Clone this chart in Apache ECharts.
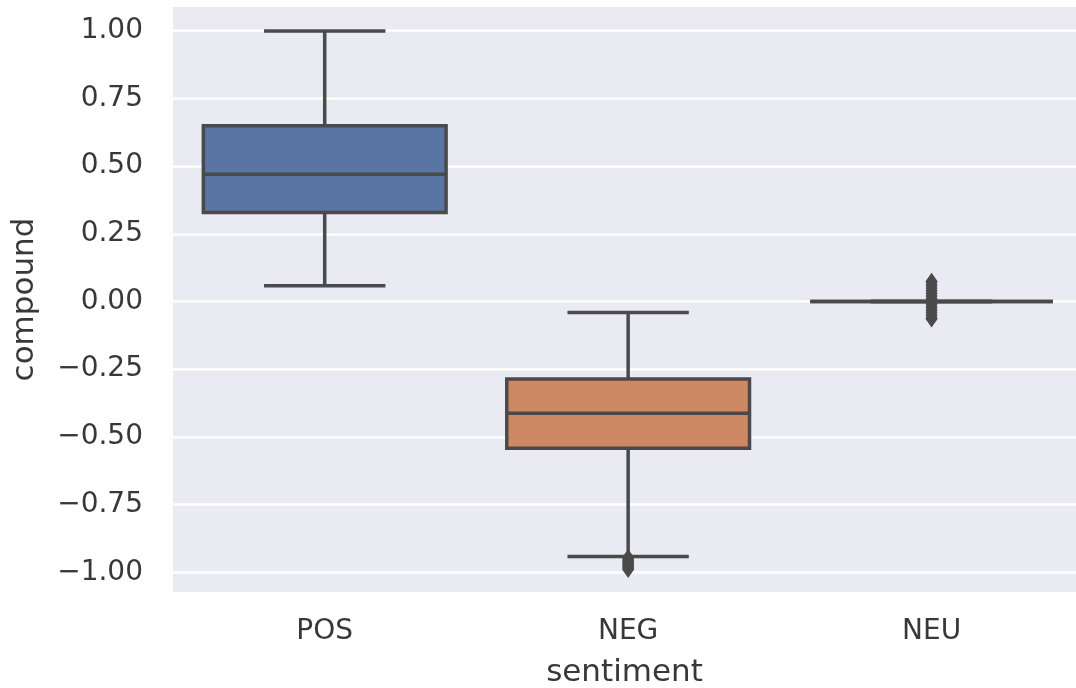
<!DOCTYPE html>
<html>
<head>
<meta charset="utf-8">
<script src="https://cdn.jsdelivr.net/npm/echarts@6/dist/echarts.min.js"></script>
<style>
html,body{margin:0;padding:0;background:#fff;}
#chart{width:1076px;height:688px;}
</style>
</head>
<body>
<div id="chart"></div>
<script>
const categories = ['POS', 'NEG', 'NEU'];
const categoryPositions = [0, 1, 2];
const whiskerLow = [0.058, -0.942, 0];
const q1 = [0.329, -0.542, 0];
const median = [0.470, -0.413, 0];
const q3 = [0.649, -0.286, 0];
const whiskerHigh = [0.999, -0.041, 0];
const boxColors = ['#5875A4', '#CC8963', '#5F9E6E'];
const negOutliers = [-0.945, -0.95, -0.955, -0.96, -0.965, -0.97, -0.975, -0.98, -0.985, -0.99];
const neuOutliers = [0.075, 0.07, 0.06, 0.05, 0.04, 0.03, 0.02, 0.01, -0.01, -0.02, -0.03, -0.04, -0.05, -0.06, -0.065];
const yTicks = [-1, -0.75, -0.5, -0.25, 0, 0.25, 0.5, 0.75, 1];

const lineColor = '#4a4a4a';
const boxData = categories.map((c, i) => [categoryPositions[i], whiskerLow[i], q1[i], median[i], q3[i], whiskerHigh[i]]);
const outlierData = [];
negOutliers.forEach(v => outlierData.push([categoryPositions[1], v]));
neuOutliers.forEach(v => outlierData.push([categoryPositions[2], v]));

const chart = echarts.init(document.getElementById('chart'));
const FONT = 'DejaVu Sans';
chart.setOption({
  animation: false,
  grid: {
    left: 173, right: 0, top: 7, bottom: 96,
    outerBoundsMode: 'none',
    containLabel: false,
    show: true, backgroundColor: '#EAEAF2', borderWidth: 0
  },
  xAxis: {
    type: 'value',
    min: -0.5,
    max: 2.476,
    name: 'sentiment',
    nameLocation: 'middle',
    nameGap: 65,
    nameTextStyle: { fontFamily: FONT, fontSize: 31, color: '#383838' },
    axisLine: { show: false },
    axisTick: { show: false, customValues: categoryPositions },
    axisLabel: {
      customValues: categoryPositions,
      fontFamily: FONT, fontSize: 28, color: '#383838', margin: 26,
      formatter: v => categories[Math.round(v)]
    },
    splitLine: { show: false }
  },
  yAxis: {
    type: 'value',
    min: -1.0727,
    max: 1.0875,
    name: 'compound',
    nameLocation: 'middle',
    nameGap: 133,
    nameTextStyle: { fontFamily: FONT, fontSize: 31, color: '#383838' },
    axisLine: { show: false },
    axisTick: { show: false, customValues: yTicks },
    axisLabel: {
      customValues: yTicks,
      fontFamily: FONT, fontSize: 28, color: '#383838', margin: 30,
      formatter: v => v.toFixed(2).replace('-', '\u2212')
    },
    splitLine: { show: true, lineStyle: { color: '#ffffff', width: 2.5 } }
  },
  series: [
    {
      type: 'custom',
      data: boxData,
      encode: { x: 0, y: [1, 2, 3, 4, 5] },
      renderItem: function (params, api) {
        const pos = api.value(0);
        const idx = params.dataIndex;
        const band = api.size([1, 0])[0];
        const bw = band * 0.8;
        const cw = bw / 2;
        const pLo = api.coord([pos, api.value(1)]);
        const pQ1 = api.coord([pos, api.value(2)]);
        const pMed = api.coord([pos, api.value(3)]);
        const pQ3 = api.coord([pos, api.value(4)]);
        const pHi = api.coord([pos, api.value(5)]);
        const x = pMed[0];
        const ls = { stroke: lineColor, lineWidth: 3.5 };
        return {
          type: 'group',
          children: [
            { type: 'line', shape: { x1: x, y1: pQ1[1], x2: x, y2: pLo[1] }, style: ls },
            { type: 'line', shape: { x1: x, y1: pQ3[1], x2: x, y2: pHi[1] }, style: ls },
            { type: 'line', shape: { x1: x - cw / 2, y1: pLo[1], x2: x + cw / 2, y2: pLo[1] }, style: ls },
            { type: 'line', shape: { x1: x - cw / 2, y1: pHi[1], x2: x + cw / 2, y2: pHi[1] }, style: ls },
            { type: 'rect', shape: { x: x - bw / 2, y: pQ3[1], width: bw, height: pQ1[1] - pQ3[1] },
              style: { fill: boxColors[idx], stroke: lineColor, lineWidth: 3.5 } },
            { type: 'line', shape: { x1: x - bw / 2, y1: pMed[1], x2: x + bw / 2, y2: pMed[1] }, style: ls }
          ]
        };
      },
      z: 2
    },
    {
      type: 'scatter',
      data: outlierData,
      symbol: 'diamond',
      symbolSize: [12, 17],
      itemStyle: { color: lineColor, opacity: 1 },
      z: 3
    }
  ]
});
</script>
</body>
</html>
